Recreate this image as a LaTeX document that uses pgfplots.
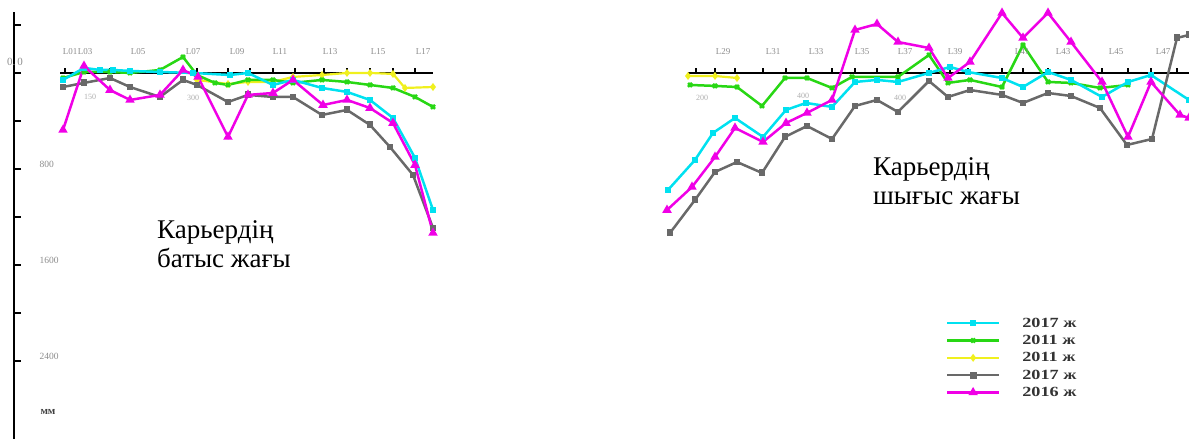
\documentclass[border=0pt]{standalone}
\usepackage{fontspec}
\setmainfont{Liberation Serif}
\usepackage{graphicx}
\usepackage{pgfplots}
\pgfplotsset{compat=1.18}

\definecolor{cCyan}{RGB}{0,225,240}
\definecolor{cGreen}{RGB}{40,215,20}
\definecolor{cYellow}{RGB}{240,240,30}
\definecolor{cGray}{RGB}{105,105,105}
\definecolor{cMag}{RGB}{240,0,230}
\definecolor{lblgray}{RGB}{140,140,140}

\pgfplotsset{
  panel/.style={scale only axis, height=427pt, ymin=-3050, ymax=508, clip=false},
  s1/.style={cCyan, line width=2.5pt, mark=square*, mark size=2pt, mark options={solid}},
  s2/.style={cGreen, line width=2.5pt, mark=x, mark size=2.8pt, mark options={solid}},
  s3/.style={cYellow, line width=2.2pt, mark=diamond*, mark size=2.2pt, mark options={solid}},
  s4/.style={cGray, line width=2.5pt, mark=square*, mark size=2.2pt, mark options={solid}},
  s5/.style={cMag, line width=2.5pt, mark=triangle*, mark size=3pt, mark options={solid}},
  zl/.style={black, line width=2.6pt, no marks},
  zt/.style={black, line width=1.3pt, ycomb, no marks},
}
\tikzset{
  xl/.style={font=\fontsize{9}{10}\selectfont, text=lblgray},
  fl/.style={font=\fontsize{8}{9}\selectfont, text=lblgray!70},
  big/.style={font=\fontsize{27}{29}\selectfont, align=left, inner sep=0pt}
}
\newcommand{\legtxt}[1]{\scalebox{1.3}[1]{\bfseries #1}}

\begin{document}
\begin{tikzpicture}
\useasboundingbox (0,0) rectangle (1189pt,439pt);
% ---------------- left panel ----------------
\begin{axis}[panel, at={(14pt,0pt)}, anchor=south west, width=436pt,
  xmin=14, xmax=450,
  axis x line=none, axis y line*=left,
  axis line style={black, line width=1.8pt},
  ytick={400,0,-400,-800,-1200,-1600,-2000,-2400},
  yticklabels={,,,800,,1600,,2400},
  /pgf/number format/assume math mode=true,
  yticklabel style={anchor=west, xshift=22pt, yshift=5pt, font=\fontsize{9.5}{10}\selectfont, text=lblgray},
  major tick length=7pt, tick style={black, line width=1.5pt}, tick align=inside]
% zero line and its ticks
\addplot[zl] coordinates {(60,0) (433,0)};
\addplot[zt] coordinates {(65,45) (85,45) (110,45) (130,45) (160,45) (183,45) (197,45) (228,45) (250,45) (273,45) (295,45) (324,45) (347,45) (370,45) (393,45) (415,45)};
% yellow 2011
\addplot[s3] coordinates {(197,-58) (228,-92) (248,-75) (273,-75) (293,-33) (322,-17) (347,0) (370,0) (393,-8) (405,-125) (433,-117)};
% green 2011
\addplot[s2] coordinates {(63,-42) (84,8) (110,8) (130,0) (160,25) (183,133) (197,-17) (215,-83) (228,-100) (248,-58) (273,-58) (293,-83) (322,-58) (347,-75) (370,-100) (393,-125) (415,-200) (433,-283)};
% cyan 2017
\addplot[s1] coordinates {(63,-58) (84,42) (100,25) (113,25) (130,17) (160,8) (193,0) (230,-17) (248,0) (273,-100) (293,-58) (322,-125) (347,-158) (370,-225) (393,-375) (415,-708) (433,-1142)};
% gray 2017
\addplot[s4] coordinates {(63,-117) (84,-83) (110,-42) (130,-117) (160,-200) (183,-58) (197,-100) (228,-242) (248,-183) (273,-200) (293,-200) (322,-350) (347,-308) (370,-433) (390,-617) (413,-850) (433,-1292)};
% magenta 2016
\addplot[s5] coordinates {(63,-475) (84,58) (110,-142) (130,-225) (160,-183) (183,25) (198,-33) (228,-533) (248,-183) (273,-167) (293,-58) (323,-267) (347,-225) (370,-292) (393,-417) (415,-767) (433,-1333)};
% labels
\node[xl] at (axis cs:70,175) {L01};
\node[xl] at (axis cs:85,175) {L03};
\node[xl] at (axis cs:138,175) {L05};
\node[xl] at (axis cs:193,175) {L07};
\node[xl] at (axis cs:237,175) {L09};
\node[xl] at (axis cs:280,175) {L11};
\node[xl] at (axis cs:330,175) {L13};
\node[xl] at (axis cs:378,175) {L15};
\node[xl] at (axis cs:423,175) {L17};
\node[xl, font=\fontsize{11}{12}\selectfont] at (axis cs:15,92) {0.\,0};
\node[fl] at (axis cs:90,-200) {150};
\node[fl] at (axis cs:193,-208) {300};
\node[font=\fontsize{11}{12}\selectfont\bfseries, text=black!75] at (axis cs:48,-2825) {мм};
\node[big, anchor=north west] at (axis cs:157,-1225) {Карьердің\\батыс жағы};
\end{axis}
% ---------------- right panel ----------------
\begin{axis}[panel, at={(660pt,0pt)}, anchor=south west, width=529pt,
  xmin=660, xmax=1189, hide axis,
  legend style={at={(0.54,0.289)}, anchor=north west, draw=none, fill=none,
    font=\fontsize{14}{15}\selectfont, text=black!80, row sep=2.5pt, column sep=20pt,
    inner sep=0pt},
  legend cell align=left,
  legend image code/.code={\draw[mark repeat=2, mark phase=2] plot coordinates {(0pt,0pt) (26pt,0pt) (52pt,0pt)};}]
\addlegendimage{s1} \addlegendentry{\legtxt{2017 ж}}
\addlegendimage{s2} \addlegendentry{\legtxt{2011 ж}}
\addlegendimage{s3} \addlegendentry{\legtxt{2011 ж}}
\addlegendimage{s4} \addlegendentry{\legtxt{2017 ж}}
\addlegendimage{s5} \addlegendentry{\legtxt{2016 ж}}
\addplot[zl, forget plot] coordinates {(688,0) (1189,0)};
\addplot[zt, forget plot] coordinates {(696,45) (715,45) (735,45) (763,45) (786,45) (806,45) (832,45) (855,45) (877,45) (898,45) (929,45) (950,45) (968,45) (1002,45) (1023,45) (1048,45) (1071,45) (1102,45) (1128,45) (1151,45) (1177,45)};
% yellow
\addplot[s3, forget plot] coordinates {(688,-25) (715,-25) (737,-42)};
% green
\addplot[s2, forget plot] coordinates {(690,-100) (715,-108) (737,-117) (762,-275) (785,-42) (807,-42) (832,-125) (852,-33) (898,-33) (929,150) (948,-83) (970,-58) (1002,-117) (1023,233) (1048,-75) (1071,-83) (1100,-125) (1128,-100)};
% cyan
\addplot[s1, forget plot] coordinates {(668,-975) (695,-725) (713,-500) (735,-375) (763,-533) (786,-308) (806,-250) (832,-283) (855,-75) (877,-58) (898,-75) (929,0) (950,50) (968,8) (1002,-42) (1023,-117) (1048,8) (1071,-58) (1102,-200) (1128,-75) (1151,-17) (1189,-225)};
% gray
\addplot[s4, forget plot] coordinates {(670,-1333) (695,-1058) (715,-825) (737,-742) (762,-833) (785,-533) (807,-442) (832,-550) (855,-275) (877,-225) (898,-325) (929,-67) (948,-200) (970,-142) (1002,-183) (1023,-250) (1048,-167) (1071,-192) (1100,-292) (1127,-600) (1152,-550) (1177,292) (1189,317)};
% magenta
\addplot[s5, forget plot] coordinates {(667,-1142) (692,-950) (715,-700) (735,-458) (763,-575) (786,-417) (807,-333) (832,-225) (855,358) (877,408) (898,258) (929,208) (948,-42) (970,92) (1002,500) (1023,292) (1048,500) (1071,258) (1102,-75) (1128,-533) (1151,-75) (1180,-350) (1189,-375)};
\node[xl] at (axis cs:723,175) {L29};
\node[xl] at (axis cs:773,175) {L31};
\node[xl] at (axis cs:816,175) {L33};
\node[xl] at (axis cs:862,175) {L35};
\node[xl] at (axis cs:905,175) {L37};
\node[xl] at (axis cs:955,175) {L39};
\node[xl] at (axis cs:1022,175) {L41};
\node[xl] at (axis cs:1063,175) {L43};
\node[xl] at (axis cs:1116,175) {L45};
\node[xl] at (axis cs:1163,175) {L47};
\node[fl] at (axis cs:702,-208) {200};
\node[fl] at (axis cs:803,-192) {400};
\node[fl] at (axis cs:900,-208) {400};
\node[big, anchor=north west] at (axis cs:873,-700) {Карьердің\\шығыс жағы};
\end{axis}
\end{tikzpicture}
\end{document}
